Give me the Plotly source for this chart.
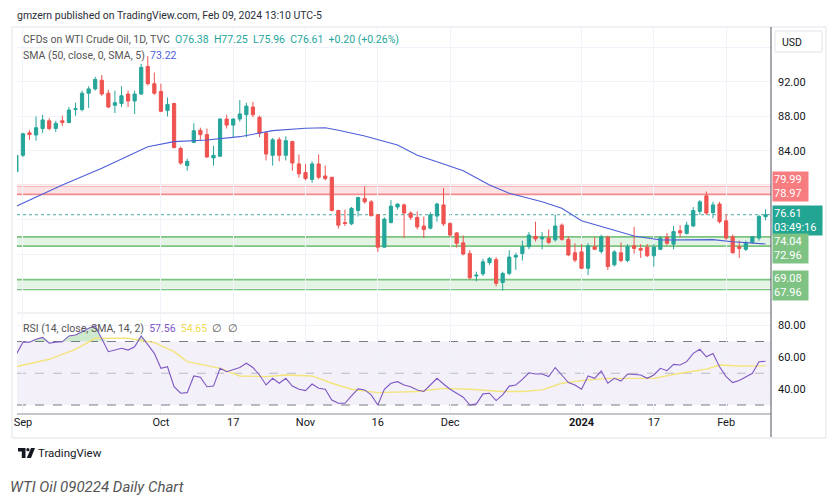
import pandas as pd
import plotly.graph_objects as go

# ---------------- data ----------------
dates = [d.strftime("%Y-%m-%d") for d in pd.bdate_range("2023-08-31", "2024-02-09")
         if d.strftime("%m-%d") not in ("12-25", "01-01")]

opens = [81.6, 83.5, 86.1, 85.85, 86.6, 87.5, 86.6, 87.5, 87.3, 88.8, 88.8, 90.7, 91.2, 92.2, 90.7,
         89.3, 89.5, 90.6, 89.8, 90.6, 93.8, 91.8, 90.9, 88.7, 89.5, 84.3, 82.3, 85.0, 86.4, 85.9,
         83.2, 83.4, 87.7, 87.0, 87.7, 88.2, 89.1, 87.9, 86.1, 83.5, 85.3, 83.5, 85.1, 82.5, 81.5,
         80.7, 82.5, 81.1, 80.95, 77.1, 75.7, 75.55, 77.1, 78.5, 78.1, 76.6, 72.85, 75.7, 77.5, 77.75,
         76.8, 76.3, 75.3, 75.05, 76.45, 77.75, 75.6, 74.5, 73.35, 72.1, 69.5, 69.75, 71.05, 71.4, 68.75,
         69.8, 71.7, 72.1, 72.9, 74.1, 73.8, 73.9, 73.7, 75.4, 73.75, 72.2, 72.3, 70.4, 72.9, 72.35,
         74.0, 70.8, 72.2, 71.3, 73.0, 72.7, 72.85, 71.85, 72.6, 74.0, 73.2, 74.75, 74.45, 75.3, 77.0,
         78.8, 76.85, 77.85, 75.9, 74.05, 72.9, 72.6, 73.4, 73.9, 76.38]
highs = [83.6, 86.1, 86.4, 88.0, 88.2, 87.8, 87.5, 88.1, 89.1, 89.6, 91.0, 91.5, 92.6, 92.8, 91.1,
         91.0, 91.5, 91.0, 91.0, 94.1, 95.0, 93.1, 91.8, 90.2, 89.6, 84.5, 83.1, 87.2, 86.7, 86.6,
         84.6, 87.8, 88.2, 87.8, 89.9, 89.6, 89.7, 88.1, 86.3, 85.5, 85.6, 85.7, 85.2, 83.6, 82.5,
         82.8, 83.6, 82.3, 81.0, 77.2, 77.2, 77.5, 78.7, 79.9, 78.3, 76.7, 76.3, 78.3, 77.9, 77.9,
         77.0, 77.0, 76.4, 76.9, 78.0, 79.7, 75.7, 74.6, 74.2, 72.5, 70.0, 71.5, 71.7, 71.7, 70.0,
         72.5, 72.2, 73.6, 74.6, 75.8, 74.6, 74.9, 76.6, 75.6, 74.1, 73.3, 73.2, 73.3, 74.0, 74.3,
         74.2, 72.5, 73.4, 73.2, 75.2, 73.2, 73.2, 73.2, 74.1, 74.5, 75.3, 75.4, 75.8, 77.5, 78.3,
         79.3, 78.1, 78.1, 76.7, 74.3, 73.6, 73.6, 74.1, 76.6, 77.25]
lows = [81.4, 83.3, 85.3, 85.2, 86.05, 86.4, 86.2, 86.9, 87.2, 88.1, 88.6, 89.0, 91.0, 90.4, 88.95,
        88.4, 89.1, 89.1, 88.3, 90.5, 91.6, 90.5, 88.5, 88.0, 84.3, 82.4, 81.7, 84.9, 85.3, 83.2,
        82.3, 83.3, 86.6, 85.6, 87.4, 85.6, 87.9, 85.6, 82.9, 82.3, 82.8, 82.9, 81.7, 80.9, 80.6,
        80.3, 80.7, 80.6, 77.0, 75.0, 75.3, 75.4, 76.4, 77.9, 76.4, 72.3, 72.8, 75.6, 77.2, 73.9,
        76.0, 74.9, 73.9, 74.9, 75.8, 75.3, 74.0, 72.8, 71.9, 69.1, 68.9, 69.5, 70.8, 68.3, 67.8,
        69.6, 70.2, 71.3, 72.6, 73.5, 72.6, 73.2, 73.5, 73.6, 71.8, 71.1, 70.3, 69.6, 72.5, 72.1,
        70.2, 70.6, 71.1, 71.1, 72.1, 71.6, 71.7, 70.6, 72.5, 73.1, 72.6, 74.0, 74.3, 75.2, 76.6,
        76.6, 76.2, 75.6, 73.7, 72.1, 71.6, 72.4, 73.3, 73.6, 75.96]
closes = [83.5, 86.0, 85.9, 86.7, 87.6, 86.6, 87.2, 87.3, 88.75, 88.9, 90.7, 91.2, 92.3, 90.6, 89.1,
          89.6, 90.4, 89.8, 90.6, 93.7, 91.8, 90.7, 88.6, 89.4, 84.4, 82.6, 82.8, 86.35, 85.9, 83.3,
          83.5, 87.7, 87.0, 87.7, 88.3, 89.2, 88.2, 86.05, 83.65, 85.3, 83.5, 85.2, 82.6, 81.35, 80.8,
          82.5, 80.95, 80.8, 77.1, 75.4, 75.6, 77.35, 78.6, 78.1, 76.5, 72.85, 76.1, 77.6, 77.85, 76.8,
          76.3, 75.2, 74.9, 76.6, 77.85, 75.55, 74.25, 73.3, 72.05, 69.3, 69.6, 71.15, 71.55, 68.65, 69.8,
          71.7, 71.9, 72.9, 74.25, 73.8, 74.0, 73.4, 75.3, 73.75, 71.95, 71.35, 70.4, 73.0, 72.6, 74.05,
          70.6, 72.3, 71.3, 72.9, 72.7, 72.5, 71.85, 72.85, 73.9, 73.3, 74.65, 74.5, 75.4, 77.1, 78.1,
          76.8, 77.75, 75.8, 73.9, 72.2, 72.7, 73.35, 74.05, 76.41, 76.61]

# 50-day SMA, read at selected candles (index into dates)
sma_idx = [0, 7, 13, 17, 20, 24, 29, 34, 39, 44, 47, 49, 53, 58, 61, 64, 68, 72, 75, 80,
           83, 86, 90, 94, 98, 101, 106, 109, 112, 114]
sma_val = [77.6, 80.06, 82.0, 83.4, 84.5, 85.08, 85.28, 85.66, 86.36, 86.63, 86.7, 86.4, 85.74,
           84.7, 83.5, 82.76, 81.72, 80.06, 79.1, 78.12, 77.36, 75.92, 75.04, 74.14, 73.68, 73.72,
           73.72, 73.48, 73.37, 73.22]

rsi = [62.0, 69.5, 69.6, 71.4, 72.6, 68.9, 69.6, 69.8, 73.5, 74.1, 76.2, 78.3, 79.8, 72.0, 63.6,
       64.6, 65.7, 64.6, 66.7, 73.5, 67.8, 62.5, 53.1, 54.1, 41.5, 37.4, 37.8, 48.3, 47.5, 41.5,
       41.9, 53.1, 51.0, 52.4, 53.6, 56.3, 53.6, 48.9, 42.6, 46.8, 43.7, 46.8, 41.9, 39.9, 39.1,
       43.2, 40.5, 39.9, 33.1, 31.1, 31.1, 35.7, 40.1, 39.5, 36.4, 30.0, 39.9, 43.7, 44.7, 42.6,
       41.5, 39.5, 38.5, 42.6, 46.8, 43.2, 39.9, 37.4, 34.9, 30.0, 30.7, 37.0, 37.4, 32.8, 36.4,
       41.9, 42.6, 46.1, 50.3, 49.5, 49.5, 47.9, 53.6, 48.9, 44.1, 42.6, 39.9, 48.3, 46.8, 51.4,
       43.7, 46.8, 45.1, 49.5, 49.3, 48.9, 46.8, 48.9, 53.1, 51.6, 55.6, 55.2, 57.3, 62.5, 65.1,
       60.4, 62.5, 54.1, 47.9, 44.1, 45.4, 47.9, 50.0, 57.3, 57.56]

rsi_ma_idx = [0, 5, 9, 12, 17, 21, 24, 26, 31, 34, 38, 41, 45, 48, 51, 55, 61, 65, 69, 74,
              77, 80, 83, 87, 90, 95, 97, 101, 105, 107, 110, 114]
rsi_ma_val = [54.1, 58.8, 65.1, 72.0, 72.0, 69.3, 63.6, 57.3, 53.1, 48.3, 47.9, 48.9, 48.3, 43.7,
              39.9, 37.8, 38.5, 40.5, 39.9, 38.5, 38.5, 39.5, 43.7, 45.8, 46.8, 46.8, 46.8, 50.0,
              52.6, 55.2, 54.6, 54.65]

resistance = [78.97, 79.99]
support_1 = [72.96, 74.04]
support_2 = [67.96, 69.08]

tick_dates = ["2023-09-01", "2023-10-02", "2023-10-17", "2023-11-01", "2023-11-16",
              "2023-12-01", "2024-01-02", "2024-01-17", "2024-02-01"]
tick_labels = ["Sep", "Oct", "17", "Nov", "16", "Dec", "<b>2024</b>", "17", "Feb"]
price_ticks = [68, 72, 76, 80, 84, 88, 92, 96]
price_tick_labels = ["", "", "", "", "84.00", "88.00", "92.00", ""]
rsi_ticks = [40, 60, 80]
rsi_tick_labels = ["40.00", "60.00", "80.00"]

# ---------------- layout helpers ----------------
W, H = 839, 501
L, R, T, B = 17, 771, 28, 414


def ax(px):
    return (px - L) / (R - L)


def ay(py):
    return (B - py) / (B - T)


x = list(range(len(dates)))
tick_pos = [dates.index(d) for d in tick_dates]

UP, DOWN = "#26a69a", "#ef5350"
GRID = "#f0f3fa"
FONT = "Roboto"

fig = go.Figure()

fig.add_trace(go.Candlestick(
    x=x, open=opens, high=highs, low=lows, close=closes,
    increasing=dict(line=dict(color=UP, width=1), fillcolor=UP),
    decreasing=dict(line=dict(color=DOWN, width=1), fillcolor=DOWN),
    whiskerwidth=0, xaxis="x", yaxis="y", showlegend=False, hoverinfo="skip"))

fig.add_trace(go.Scatter(x=sma_idx, y=sma_val, mode="lines",
                         line=dict(color="#4c5fd7", width=1.1),
                         xaxis="x", yaxis="y", showlegend=False, hoverinfo="skip"))

# RSI pane
fig.add_trace(go.Scatter(x=x, y=[70] * len(x), mode="lines", line=dict(width=0),
                         xaxis="x2", yaxis="y2", showlegend=False, hoverinfo="skip"))
fig.add_trace(go.Scatter(x=x, y=[max(v, 70) for v in rsi], mode="lines", line=dict(width=0),
                         fill="tonexty", fillcolor="rgba(76,175,80,0.28)",
                         xaxis="x2", yaxis="y2", showlegend=False, hoverinfo="skip"))
fig.add_trace(go.Scatter(x=rsi_ma_idx, y=rsi_ma_val, mode="lines",
                         line=dict(color="#f3e47c", width=1.4),
                         xaxis="x2", yaxis="y2", showlegend=False, hoverinfo="skip"))
fig.add_trace(go.Scatter(x=x, y=rsi, mode="lines", line=dict(color="#7e57c2", width=1.1),
                         xaxis="x2", yaxis="y2", showlegend=False, hoverinfo="skip"))

shapes = []
# bands
for lo, hi, line_c, fill_c in [
        (resistance[0], resistance[1], "#f28b8e", "rgba(247,124,128,0.22)"),
        (support_1[0], support_1[1], "#7cc480", "rgba(129,199,132,0.22)"),
        (support_2[0], support_2[1], "#7cc480", "rgba(129,199,132,0.22)")]:
    shapes.append(dict(type="rect", xref="x domain", yref="y", x0=0, x1=1, y0=lo, y1=hi,
                       fillcolor=fill_c, line=dict(width=0), layer="below"))
    for lv in (lo, hi):
        shapes.append(dict(type="line", xref="x domain", yref="y", x0=0, x1=1, y0=lv, y1=lv,
                           line=dict(color=line_c, width=1.8), layer="below"))
# last price dotted
shapes.append(dict(type="line", xref="x domain", yref="y", x0=0, x1=1, y0=closes[-1], y1=closes[-1],
                   line=dict(color="#4aa89f", width=1, dash="dot"), layer="below"))
# RSI band & levels
shapes.append(dict(type="rect", xref="x2 domain", yref="y2", x0=0, x1=1, y0=30, y1=70,
                   fillcolor="rgba(126,87,194,0.09)", line=dict(width=0), layer="below"))
for lv, c in [(70, "#787b86"), (50, "rgba(120,123,134,0.45)"), (30, "#787b86")]:
    shapes.append(dict(type="line", xref="x2 domain", yref="y2", x0=0, x1=1, y0=lv, y1=lv,
                       line=dict(color=c, width=1, dash="dash"), layer="below"))
# frame, separators, axis lines
shapes.append(dict(type="rect", xref="paper", yref="paper", x0=ax(12), x1=ax(826), y0=ay(438), y1=ay(27),
                   line=dict(color="#e0e3eb", width=1), layer="below"))
shapes.append(dict(type="line", xref="paper", yref="paper", x0=0, x1=1, y0=ay(313), y1=ay(313),
                   line=dict(color="#e0e3eb", width=1)))
shapes.append(dict(type="line", xref="paper", yref="paper", x0=0, x1=1, y0=ay(414), y1=ay(414),
                   line=dict(color="#8a8d96", width=1)))
shapes.append(dict(type="line", xref="paper", yref="paper", x0=1, x1=1, y0=ay(437), y1=ay(27),
                   line=dict(color="#50535e", width=1)))
shapes.append(dict(type="rect", xref="paper", yref="paper", x0=ax(775), x1=ax(822), y0=ay(52), y1=ay(31),
                   line=dict(color="#e0e3eb", width=1), fillcolor="white"))


def ppath(points):
    s = "M " + " L ".join(f"{ax(px):.5f},{ay(py):.5f}" for px, py in points) + " Z"
    return s


# TradingView logo (approximation)
shapes.append(dict(type="path", xref="paper", yref="paper",
                   path=ppath([(18, 448), (25.5, 448), (25.5, 458), (21.8, 458), (21.8, 451.5), (18, 451.5)]),
                   fillcolor="#131722", line=dict(width=0)))
shapes.append(dict(type="circle", xref="paper", yref="paper", x0=ax(26.3), x1=ax(29.5), y0=ay(451.3), y1=ay(448.1),
                   fillcolor="#131722", line=dict(width=0)))
shapes.append(dict(type="path", xref="paper", yref="paper",
                   path=ppath([(31, 448), (35, 448), (31, 458), (26.8, 458)]),
                   fillcolor="#131722", line=dict(width=0)))

ann = []


def txt(px, py, text, size=10, color="#555", anchor="left", **kw):
    ann.append(dict(xref="paper", yref="paper", x=ax(px), y=ay(py), text=text, showarrow=False,
                    xanchor=anchor, yanchor="middle", font=dict(family=FONT, size=size, color=color), **kw))


chg = closes[-1] - closes[-2]
pct = chg / closes[-2] * 100
txt(15, 16, "gmzern published on TradingView.com, Feb 09, 2024 13:10 UTC-5", size=10.5, color="#2a2e39")
txt(21, 39, "CFDs on WTI Crude Oil, 1D, TVC&nbsp;&nbsp;"
    f"<span style='color:{UP}'>O{opens[-1]:.2f}&nbsp;&nbsp;H{highs[-1]:.2f}&nbsp;&nbsp;L{lows[-1]:.2f}&nbsp;&nbsp;"
    f"C{closes[-1]:.2f}&nbsp;&nbsp;{chg:+.2f} ({pct:+.2f}%)</span>", size=10.5)
txt(21, 55, f"SMA (50, close, 0, SMA, 5)&nbsp;&nbsp;<span style='color:#4c5fd7'>{sma_val[-1]:.2f}</span>", size=10.5)
txt(21, 328, f"RSI (14, close, SMA, 14, 2)&nbsp;&nbsp;<span style='color:#7e57c2'>{rsi[-1]:.2f}</span>&nbsp;&nbsp;"
    f"<span style='color:#f0dc55'>{rsi_ma_val[-1]:.2f}</span>&nbsp;&nbsp;∅&nbsp;&nbsp;∅", size=10.5)
txt(780, 42, "USD", size=10.5, color="#131722")
txt(36, 453, "TradingView", size=11.5, color="#131722")
txt(8, 487, "<i>WTI Oil 090224 Daily Chart</i>", size=15, color="#555")


def price_box(lvls, text, color, width, shift):
    ann.append(dict(xref="paper", yref="y", x=1, y=sum(lvls) / len(lvls), xanchor="left", yanchor="middle",
                    xshift=1, yshift=shift, text=text, showarrow=False, align="left", width=width,
                    bgcolor=color, borderpad=1, font=dict(family=FONT, size=11, color="white")))


price_box(resistance, f"{resistance[1]:.2f}<br>{resistance[0]:.2f}", "#f77c80", 33, 3)
price_box([closes[-1]], f"{closes[-1]:.2f}<br>03:49:16", "#22a592", 47, -5.5)
price_box(support_1, f"{support_1[1]:.2f}<br>{support_1[0]:.2f}", "#7fc384", 33, -7)
price_box(support_2, f"{support_2[1]:.2f}<br>{support_2[0]:.2f}", "#7fc384", 33, -1.5)

xr = [0.1, 114.83]
fig.update_layout(
    width=W, height=H, margin=dict(l=L, r=W - R, t=T, b=H - B),
    paper_bgcolor="white", plot_bgcolor="white", showlegend=False, boxgap=0.3,
    font=dict(family=FONT, size=11, color="#131722"),
    xaxis=dict(domain=[0, 1], anchor="y", range=xr, tickvals=tick_pos, ticktext=tick_labels,
               showticklabels=False, showgrid=True, gridcolor=GRID, zeroline=False,
               rangeslider=dict(visible=False), fixedrange=True),
    yaxis=dict(domain=[ay(312), 1], anchor="x", side="right", range=[65.33, 98.26],
               tickvals=price_ticks, ticktext=price_tick_labels, showgrid=True, gridcolor=GRID,
               zeroline=False, ticks="", ticklabelstandoff=6, tickfont=dict(size=11, color="#131722")),
    xaxis2=dict(domain=[0, 1], anchor="y2", range=xr, tickvals=tick_pos, ticktext=tick_labels,
                showgrid=True, gridcolor=GRID, zeroline=False, ticks="",
                tickfont=dict(size=11, color="#131722")),
    yaxis2=dict(domain=[0, ay(314)], anchor="x2", side="right", range=[24.33, 87.32],
                tickvals=rsi_ticks, ticktext=rsi_tick_labels, showgrid=True, gridcolor=GRID,
                zeroline=False, ticks="", ticklabelstandoff=6, tickfont=dict(size=11, color="#131722")),
    shapes=shapes, annotations=ann,
)

fig.write_html("out.html", config={"displayModeBar": False},
               post_script="document.body.style.margin='0';")
